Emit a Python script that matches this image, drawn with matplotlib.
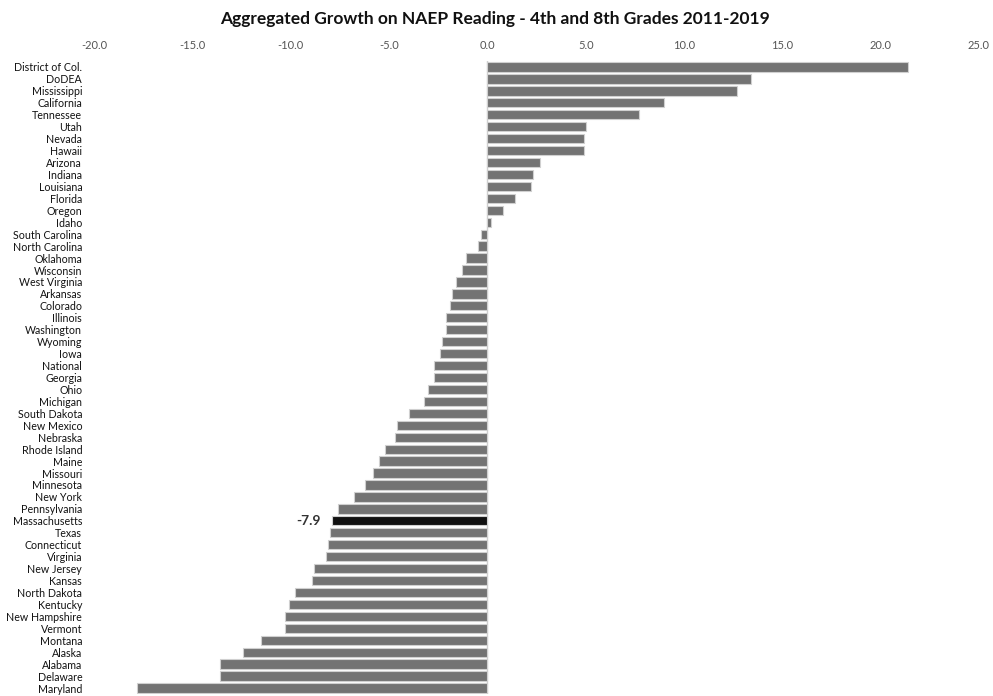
import numpy as np
import matplotlib.pyplot as plt

STATES = ['District of Col.', 'DoDEA', 'Mississippi', 'California', 'Tennessee', 'Utah',
          'Nevada', 'Hawaii', 'Arizona', 'Indiana', 'Louisiana', 'Florida', 'Oregon', 'Idaho',
          'South Carolina', 'North Carolina', 'Oklahoma', 'Wisconsin', 'West Virginia',
          'Arkansas', 'Colorado', 'Illinois', 'Washington', 'Wyoming', 'Iowa', 'National',
          'Georgia', 'Ohio', 'Michigan', 'South Dakota', 'New Mexico', 'Nebraska',
          'Rhode Island', 'Maine', 'Missouri', 'Minnesota', 'New York', 'Pennsylvania',
          'Massachusetts', 'Texas', 'Connecticut', 'Virginia', 'New Jersey', 'Kansas',
          'North Dakota', 'Kentucky', 'New Hampshire', 'Vermont', 'Montana', 'Alaska',
          'Alabama', 'Delaware', 'Maryland']
GROWTH = [21.4, 13.4, 12.7, 9.0, 7.7, 5.0,
          4.9, 4.9, 2.7, 2.3, 2.2, 1.4, 0.8, 0.2,
          -0.3, -0.5, -1.1, -1.3, -1.6,
          -1.8, -1.9, -2.1, -2.1, -2.3, -2.4, -2.7,
          -2.7, -3.0, -3.2, -4.0, -4.6, -4.7,
          -5.2, -5.5, -5.8, -6.2, -6.8, -7.6,
          -7.9, -8.0, -8.1, -8.2, -8.8, -8.9,
          -9.8, -10.1, -10.3, -10.3, -11.5, -12.4,
          -13.6, -13.6, -17.8]
HIGHLIGHT = 'Massachusetts'
XTICKS = [-20, -15, -10, -5, 0, 5, 10, 15, 20, 25]

plt.rcParams['font.family'] = ['Lato', 'DejaVu Sans']

fig = plt.figure(figsize=(9.93, 6.96), dpi=100)
ax = fig.add_axes([94 / 993, 2 / 696, 885 / 993, 633 / 696])

y = np.arange(len(STATES))
colors = ['#111111' if s == HIGHLIGHT else '#737373' for s in STATES]
ax.barh(y, GROWTH, height=0.78, color=colors, edgecolor='#d0d0d0', linewidth=0.8, zorder=2)
ax.axvline(0, color='#d0d0d0', linewidth=1, zorder=1)

hi = STATES.index(HIGHLIGHT)
ax.annotate(f'{GROWTH[hi]:.1f}', (GROWTH[hi], hi), xytext=(-8, 0), textcoords='offset points',
            ha='right', va='center', fontsize=10, fontweight='bold', color='#333333')

ax.set_xlim(-20, 25)
ax.set_ylim(len(STATES) - 0.5, -0.5)
ax.set_xticks(XTICKS)
ax.set_xticklabels([f'{v:.1f}' for v in XTICKS], fontsize=8, color='#555555')
ax.xaxis.tick_top()
ax.set_yticks(y)
ax.set_yticklabels(STATES, fontsize=7.7, color='#111111')
ax.tick_params(axis='both', length=0)
ax.tick_params(axis='y', pad=8.5)
ax.tick_params(axis='x', pad=7)
for sp in ax.spines.values():
    sp.set_visible(False)

fig.suptitle('Aggregated Growth on NAEP Reading - 4th and 8th Grades 2011-2019',
             fontsize=12.5, fontweight='bold', y=0.984, x=0.498, color='#111111')

fig.savefig('out.png', dpi=100)
